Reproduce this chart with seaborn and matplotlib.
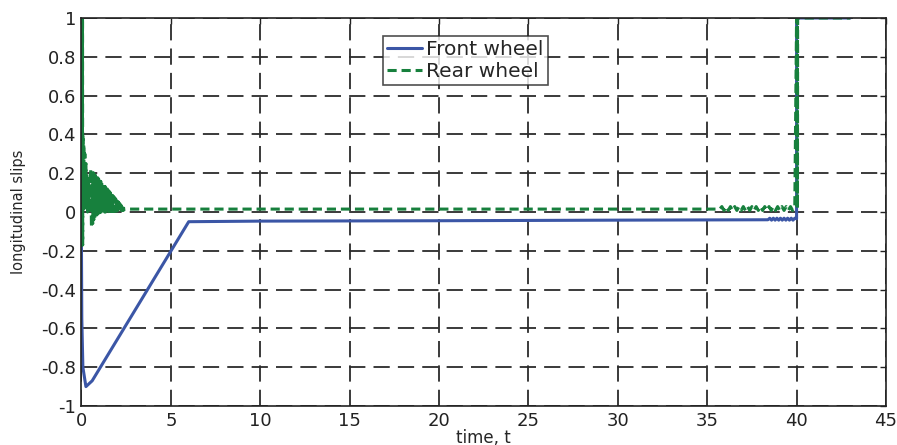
import pandas as pd
import seaborn as sns
import matplotlib
matplotlib.use('Agg')
import matplotlib.pyplot as plt

# ---- values ----
# front wheel: drop to -0.9, ramp up to -0.05 at t~6, flat, chatter near 40, jump to 1
front_t = [0.00, 0.02, 0.08, 0.25, 0.60, 6.00, 10.0, 20.0, 30.0, 38.4,
           38.5, 38.6, 38.7, 38.8, 38.9, 39.0, 39.1, 39.2, 39.3, 39.4,
           39.5, 39.6, 39.7, 39.8, 39.9, 40.0, 40.0, 40.0, 43.0]
front_y = [-0.17, -0.55, -0.80, -0.90, -0.87, -0.05, -0.047, -0.045, -0.042, -0.04,
           -0.032, -0.042, -0.032, -0.042, -0.032, -0.042, -0.032, -0.042, -0.032, -0.042,
           -0.032, -0.042, -0.032, -0.042, -0.032, -0.035, 0.0, 1.0, 1.0]

# rear wheel, start: spike from 1 at t=0 and first fast oscillations
rear_start_t = [0.00, 0.01, 0.02, 0.03, 0.04, 0.05, 0.06, 0.07, 0.08, 0.10,
                0.13, 0.16, 0.19, 0.22, 0.25, 0.28, 0.31, 0.34, 0.37, 0.40,
                0.44, 0.48, 0.52, 0.56]
rear_start_y = [1.00, -0.17, 1.00, -0.17, 1.00, -0.17, 1.00, -0.17, 0.40, 0.05,
                0.35, 0.02, 0.30, 0.03, 0.25, 0.02, 0.20, 0.00, 0.18, 0.02,
                0.10, 0.00, 0.22, -0.08]

# rear wheel, decaying oscillation (dense green triangle, t 0.6 .. 2.4)
rear_osc_t = [0.60, 0.63, 0.66, 0.69, 0.72, 0.75, 0.78, 0.81, 0.84, 0.87,
              0.90, 0.93, 0.96, 0.99, 1.02, 1.05, 1.08, 1.11, 1.14, 1.17,
              1.20, 1.23, 1.26, 1.29, 1.32, 1.35, 1.38, 1.41, 1.44, 1.47,
              1.50, 1.53, 1.56, 1.59, 1.62, 1.65, 1.68, 1.71, 1.74, 1.77,
              1.80, 1.83, 1.86, 1.89, 1.92, 1.95, 1.98, 2.01, 2.04, 2.07,
              2.10, 2.13, 2.16, 2.19, 2.22, 2.25, 2.28, 2.31, 2.34, 2.37,
              2.40]
rear_osc_y = [0.210, -0.060, 0.203, -0.040, 0.197, -0.030, 0.190, -0.020, 0.184, -0.015,
              0.177, -0.010, 0.171, -0.005, 0.164, 0.000, 0.158, 0.000, 0.151, 0.000,
              0.145, 0.000, 0.138, 0.000, 0.132, 0.000, 0.125, 0.000, 0.119, 0.000,
              0.112, 0.002, 0.106, 0.002, 0.099, 0.003, 0.093, 0.003, 0.086, 0.004,
              0.080, 0.004, 0.073, 0.005, 0.067, 0.005, 0.060, 0.006, 0.054, 0.006,
              0.047, 0.007, 0.041, 0.008, 0.034, 0.008, 0.028, 0.009, 0.021, 0.010,
              0.015]

# rear wheel, near-zero plateau, chatter from ~35.7 s, then jump to 1 at t=40
rear_end_t = [35.70, 35.82, 35.94, 36.06, 36.18, 36.30, 36.42, 36.54, 36.66, 36.78,
              36.90, 37.02, 37.14, 37.26, 37.38, 37.50, 37.62, 37.74, 37.86, 37.98,
              38.10, 38.22, 38.34, 38.46, 38.58, 38.70, 38.82, 38.94, 39.06, 39.18,
              39.30, 39.42, 39.54, 39.66, 39.78, 39.90, 40.00, 40.01, 40.02, 40.03,
              40.04, 40.05, 40.06, 40.07, 43.00]
rear_end_y = [0.015, 0.028, 0.008, 0.028, 0.008, 0.028, 0.008, 0.028, 0.008, 0.028,
              0.008, 0.028, 0.008, 0.028, 0.008, 0.028, 0.008, 0.028, 0.008, 0.028,
              0.008, 0.028, 0.008, 0.028, 0.008, 0.028, 0.008, 0.028, 0.008, 0.028,
              0.008, 0.028, 0.008, 0.028, 0.008, 0.028, 1.000, 0.020, 1.000, 0.020,
              1.000, 0.020, 1.000, 1.000, 1.000]

rear_t = rear_start_t + rear_osc_t + rear_end_t
rear_y = rear_start_y + rear_osc_y + rear_end_y

x_ticks = [0, 5, 10, 15, 20, 25, 30, 35, 40, 45]
y_ticks = [-1, -0.8, -0.6, -0.4, -0.2, 0, 0.2, 0.4, 0.6, 0.8, 1]
y_tick_labels = ['-1', '-0.8', '-0.6', '-0.4', '-0.2', '0', '0.2', '0.4', '0.6', '0.8', '1']

df = pd.concat([
    pd.DataFrame({'t': front_t, 'slip': front_y, 'wheel': 'Front wheel'}),
    pd.DataFrame({'t': rear_t, 'slip': rear_y, 'wheel': 'Rear wheel'}),
], ignore_index=True)

sns.set_style('white')
plt.rcParams['font.family'] = ['DejaVu Sans']

fig = plt.figure(figsize=(8.97, 4.45), dpi=100)
ax = fig.add_axes([0.0908, 0.0876, 0.8969, 0.872])

sns.lineplot(data=df, x='t', y='slip', hue='wheel', style='wheel',
             hue_order=['Front wheel', 'Rear wheel'],
             palette={'Front wheel': '#3b56a6', 'Rear wheel': '#17803d'},
             dashes={'Front wheel': '', 'Rear wheel': (3, 1.6)},
             sort=False, estimator=None, linewidth=2.2, ax=ax)

ax.set_xlim(0, 45)
ax.set_ylim(-1, 1)
ax.set_xticks(x_ticks)
ax.set_yticks(y_ticks, labels=y_tick_labels)

# matlab-like dashed grid and boxed axes
ax.grid(True, color='#2b2b2b', linewidth=1.3, linestyle=(0, (9, 4.5)))
ax.set_axisbelow(True)
for s in ax.spines.values():
    s.set_visible(True)
    s.set_color('#222222')
    s.set_linewidth(1.2)
ax.tick_params(direction='in', length=4, width=1, top=True, right=True,
               labelsize=13, colors='#222222', pad=4)

ax.set_xlabel('time, t', fontsize=12)
ax.xaxis.set_label_coords(0.5, -0.058)
ax.set_ylabel('longitudinal slips', fontsize=10.5)
ax.yaxis.set_label_coords(-0.069, 0.5)

handles, labels = ax.get_legend_handles_labels()
leg = ax.legend(handles, labels, loc='upper left', bbox_to_anchor=(0.375, 0.953),
                fontsize=14.5, frameon=True, fancybox=False, handlelength=1.75,
                handletextpad=0.2, borderpad=0.2, labelspacing=0.15,
                borderaxespad=0)
leg.get_frame().set_edgecolor('#222222')
leg.get_frame().set_linewidth(1.2)

fig.savefig('out.png', dpi=100)
